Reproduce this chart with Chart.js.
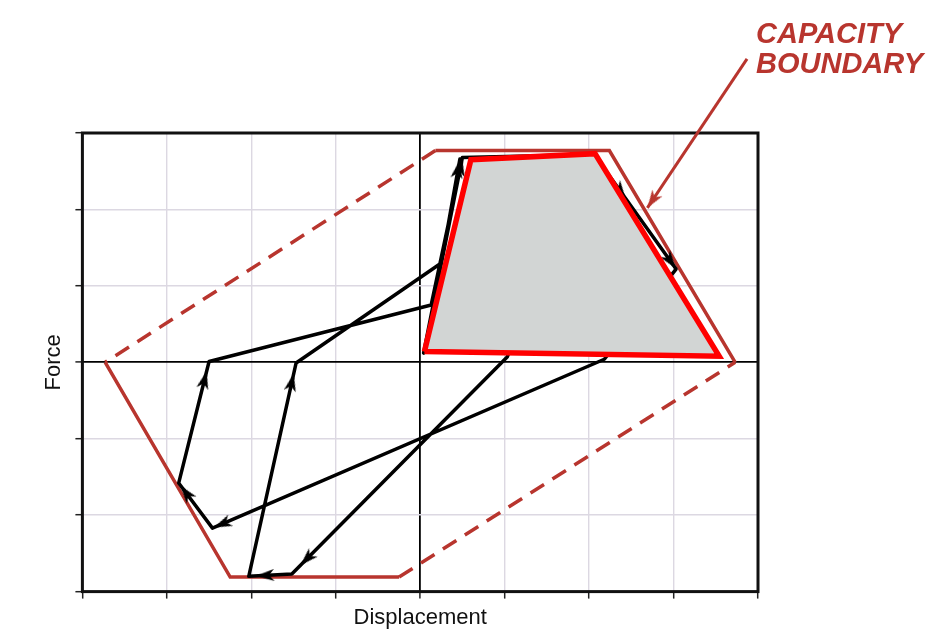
<!DOCTYPE html>
<html>
<head>
<meta charset="utf-8">
<title>Capacity boundary</title>
<script src="https://cdn.jsdelivr.net/npm/chart.js@4/dist/chart.umd.min.js"></script>
<style>
  html, body { margin: 0; padding: 0; background: #fff; }
  #wrap { width: 941px; height: 631px; }
</style>
</head>
<body>
<div id="wrap"><canvas id="chart"></canvas></div>
<script>
// capacity boundary, closed loop A B C D E F A
const boundaryX = [-3.73, -2.25, -0.25, 3.73, 2.24, 0.18, -3.73];
const boundaryY = [0, -2.81, -2.81, 0, 2.77, 2.77, 0];
const boundaryDashed = [2, 5]; // C->D and F->A are dashed

// shaded red envelope
const envelopeX = [0.05, 0.60, 2.07, 3.54, 0.05];
const envelopeY = [0.14, 2.65, 2.73, 0.08, 0.14];

// force-displacement path (black)
const pathX = [0.04, 0.50, 2.06, 3.03, 2.18, -2.46, -2.86, -2.50, 0.13, 0.50, 2.06, 1.03, -1.52, -2.03, -1.47, 0.25, 0.47];
const pathY = [0.12, 2.68, 2.72, 1.22, 0.04, -2.17, -1.58, 0.01, 0.75, 2.68, 2.72, 0.07, -2.77, -2.80, -0.01, 1.30, 2.66];

// arrowheads: which path segment, and where along it
const arrowSeg = [0, 2, 2, 4, 5, 6, 11, 12, 13, 15];
const arrowPos = [0.95, 0.32, 0.93, 0.975, 0.78, 0.85, 0.93, 0.62, 0.91, 0.9];

// label pointer
const pointerX = [3.87, 2.69];
const pointerY = [3.97, 2.02];

const xRange = [-4, 4];
const yRange = [-3, 3];

const capacityLabel = ["CAPACITY", "BOUNDARY"];

const darkRed = "#b8352e";

const toPts = (xs, ys) => xs.map((x, i) => ({ x: x, y: ys[i] }));

const makeArrowHead = (color) => {
  const c = document.createElement("canvas");
  c.width = 12;
  c.height = 18;
  const g = c.getContext("2d");
  g.fillStyle = color;
  g.beginPath();
  g.moveTo(6, 0);
  g.lineTo(12, 18);
  g.lineTo(6, 13);
  g.lineTo(0, 18);
  g.closePath();
  g.fill();
  return c;
};
const blackHead = makeArrowHead("#000");
const redHead = makeArrowHead(darkRed);

const arrowPoints = arrowSeg.map((s, i) => {
  const t = arrowPos[i];
  return {
    x: pathX[s] + (pathX[s + 1] - pathX[s]) * t,
    y: pathY[s] + (pathY[s + 1] - pathY[s]) * t,
    x0: pathX[s], y0: pathY[s], x1: pathX[s + 1], y1: pathY[s + 1],
  };
});

const pointerHead = [{
  x: pointerX[0] + (pointerX[1] - pointerX[0]) * 0.95,
  y: pointerY[0] + (pointerY[1] - pointerY[0]) * 0.95,
  x0: pointerX[0], y0: pointerY[0], x1: pointerX[1], y1: pointerY[1],
}];

const headRotation = (ctx) => {
  const p = ctx.raw;
  const sx = ctx.chart.scales.x;
  const sy = ctx.chart.scales.y;
  if (!p || !sx || !sy) return 0;
  const dx = sx.getPixelForValue(p.x1) - sx.getPixelForValue(p.x0);
  const dy = sy.getPixelForValue(p.y1) - sy.getPixelForValue(p.y0);
  return Math.atan2(dx, -dy) * 180 / Math.PI;
};

const framePlugin = {
  id: "frame",
  beforeDatasetsDraw(chart) {
    const { ctx, chartArea: a } = chart;
    ctx.save();
    ctx.strokeStyle = "#111";
    ctx.lineWidth = 3;
    ctx.strokeRect(a.left, a.top, a.right - a.left, a.bottom - a.top);
    ctx.restore();
  },
};

const labelPlugin = {
  id: "capacityLabel",
  afterDraw(chart) {
    const ctx = chart.ctx;
    ctx.save();
    ctx.fillStyle = darkRed;
    ctx.font = "italic bold 29px 'Liberation Sans', Arial, sans-serif";
    ctx.textAlign = "left";
    ctx.textBaseline = "alphabetic";
    capacityLabel.forEach((line, i) => {
      ctx.fillText(line, 756, 43 + i * 30);
    });
    ctx.restore();
  },
};

const gridColor = (c) => (c.tick && c.tick.value === 0 ? "#000" : "#dcd8e2");
const gridWidth = (c) => (c.tick && c.tick.value === 0 ? 1.8 : 1.4);

new Chart(document.getElementById("chart"), {
  type: "scatter",
  data: {
    datasets: [
      {
        label: "pointer",
        data: toPts(pointerX, pointerY),
        showLine: true,
        borderColor: darkRed,
        borderWidth: 3,
        pointRadius: 0,
        clip: false,
        order: 0,
      },
      {
        label: "pointer head",
        data: pointerHead,
        pointStyle: redHead,
        rotation: headRotation,
        clip: false,
        order: 0,
      },
      {
        label: "envelope",
        data: toPts(envelopeX, envelopeY),
        showLine: true,
        borderColor: "#ff0000",
        backgroundColor: "#d2d5d4",
        borderWidth: 5.5,
        borderJoinStyle: "miter",
        fill: "shape",
        pointRadius: 0,
        order: 1,
      },
      {
        label: "arrows",
        data: arrowPoints,
        pointStyle: blackHead,
        rotation: headRotation,
        order: 2,
      },
      {
        label: "path",
        data: toPts(pathX, pathY),
        showLine: true,
        borderColor: "#000",
        borderWidth: 3.5,
        borderJoinStyle: "round",
        borderCapStyle: "round",
        pointRadius: 0,
        order: 3,
      },
      {
        label: "capacity boundary",
        data: toPts(boundaryX, boundaryY),
        showLine: true,
        borderColor: darkRed,
        borderWidth: 3.5,
        pointRadius: 0,
        segment: {
          borderDash: (c) => (boundaryDashed.includes(c.p0DataIndex) ? [16, 10] : undefined),
        },
        order: 4,
      },
    ],
  },
  options: {
    responsive: true,
    maintainAspectRatio: false,
    animation: false,
    layout: { padding: { left: 41, right: 183, top: 133, bottom: 0 } },
    plugins: {
      legend: { display: false },
      tooltip: { enabled: false },
    },
    scales: {
      x: {
        type: "linear",
        min: xRange[0],
        max: xRange[1],
        ticks: { stepSize: 1, display: false },
        grid: { color: gridColor, lineWidth: gridWidth, tickLength: 7, tickColor: "#222", tickWidth: 1.5 },
        border: { display: false },
        title: {
          display: true,
          text: "Displacement",
          color: "#111",
          font: { family: "'Liberation Sans', Arial, sans-serif", size: 22 },
          padding: { top: 6, bottom: 0 },
        },
      },
      y: {
        type: "linear",
        min: yRange[0],
        max: yRange[1],
        ticks: { stepSize: 1, display: false },
        grid: { color: gridColor, lineWidth: gridWidth, tickLength: 7, tickColor: "#222", tickWidth: 1.5 },
        border: { display: false },
        title: {
          display: true,
          text: "Force",
          color: "#111",
          font: { family: "'Liberation Sans', Arial, sans-serif", size: 22 },
          padding: { top: 0, bottom: 8 },
        },
      },
    },
  },
  plugins: [framePlugin, labelPlugin],
});
</script>
</body>
</html>
